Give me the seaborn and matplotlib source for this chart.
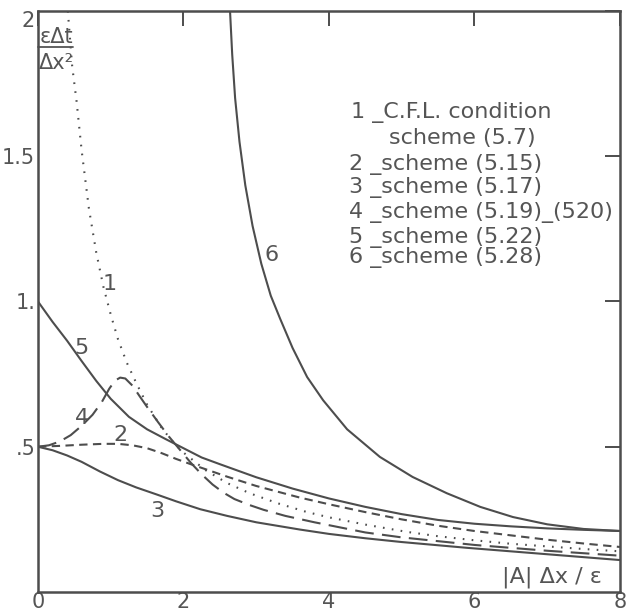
import matplotlib
matplotlib.use("Agg")
import matplotlib.pyplot as plt
import seaborn as sns
import pandas as pd

# Stability limits of eps*dt/dx^2 against the cell Reynolds number |A| dx / eps
x1 = [0.41, 0.47, 0.53, 0.60, 0.70, 0.80, 0.90, 1.00, 1.10, 1.22, 1.35, 1.50, 1.70, 1.86, 2.00,
      2.30, 2.60, 2.91, 3.30, 3.70, 4.00, 4.50, 5.07, 5.50, 6.00, 6.50, 7.00, 7.50, 8.00]
y1 = [2.00, 1.81, 1.69, 1.52, 1.32, 1.17, 1.05, 0.955, 0.87, 0.79, 0.72, 0.645, 0.565, 0.515, 0.48,
      0.42, 0.375, 0.34, 0.305, 0.275, 0.257, 0.232, 0.207, 0.192, 0.178, 0.166, 0.157, 0.148, 0.14]

x2 = [0.0, 0.3, 0.6, 0.9, 1.1, 1.3, 1.5, 1.7, 1.9, 2.1, 2.3, 2.6, 3.0, 3.6, 4.0, 4.5, 5.0, 5.5,
      6.0, 6.5, 7.0, 7.5, 8.0]
y2 = [0.50, 0.503, 0.507, 0.51, 0.51, 0.505, 0.495, 0.478, 0.458, 0.44, 0.423, 0.397, 0.365, 0.325,
      0.302, 0.275, 0.25, 0.228, 0.21, 0.195, 0.18, 0.167, 0.155]

x3 = [0.0, 0.2, 0.4, 0.6, 0.85, 1.1, 1.35, 1.64, 1.9, 2.23, 2.6, 3.0, 3.6, 4.0, 4.5, 5.0, 5.9,
      6.5, 7.0, 7.5, 8.0]
y3 = [0.50, 0.488, 0.47, 0.448, 0.415, 0.385, 0.36, 0.335, 0.312, 0.285, 0.262, 0.24, 0.215, 0.20,
      0.185, 0.172, 0.152, 0.14, 0.13, 0.12, 0.11]

x4 = [0.0, 0.15, 0.3, 0.45, 0.6, 0.75, 0.88, 0.98, 1.06, 1.13, 1.2, 1.3, 1.4, 1.5, 1.65, 1.8, 1.95,
      2.1, 2.25, 2.4, 2.55, 2.7, 2.9, 3.1, 3.4, 3.8, 4.5, 5.0, 5.5, 6.0, 7.0, 8.0]
y4 = [0.50, 0.505, 0.518, 0.54, 0.572, 0.61, 0.655, 0.70, 0.728, 0.738, 0.735, 0.71, 0.673, 0.637,
      0.585, 0.535, 0.49, 0.445, 0.405, 0.37, 0.342, 0.32, 0.30, 0.283, 0.262, 0.24, 0.205, 0.188,
      0.175, 0.162, 0.142, 0.125]

x5 = [0.0, 0.2, 0.4, 0.6, 0.8, 1.0, 1.25, 1.5, 1.75, 2.0, 2.25, 2.5, 3.0, 3.5, 4.0, 4.5, 5.0, 5.5,
      6.0, 6.5, 7.0, 7.5, 8.0]
y5 = [1.00, 0.93, 0.865, 0.795, 0.727, 0.665, 0.603, 0.56, 0.527, 0.495, 0.463, 0.44, 0.395, 0.356,
      0.322, 0.293, 0.268, 0.248, 0.235, 0.226, 0.219, 0.214, 0.21]

x6 = [2.64, 2.67, 2.71, 2.77, 2.85, 2.95, 3.07, 3.20, 3.33, 3.50, 3.70, 3.92, 4.25, 4.70, 5.15,
      5.62, 6.08, 6.53, 7.00, 7.50, 8.00]
y6 = [2.00, 1.85, 1.70, 1.55, 1.40, 1.26, 1.13, 1.02, 0.94, 0.84, 0.74, 0.66, 0.56, 0.465, 0.396,
      0.34, 0.293, 0.258, 0.233, 0.217, 0.21]

curve_ids = ["1", "2", "3", "4", "5", "6"]
legend_lines = [
    "1 _C.F.L. condition",
    "scheme (5.7)",
    "2 _scheme (5.15)",
    "3 _scheme (5.17)",
    "4 _scheme (5.19)_(520)",
    "5 _scheme (5.22)",
    "6 _scheme (5.28)",
]
xtick_vals = [0, 2, 4, 6, 8]
xtick_text = ["0", "2", "4", "6", "8"]
ytick_vals = [0.5, 1.0, 1.5, 2.0]
ytick_text = [".5", "1.", "1.5", "2"]

sns.set_theme(style="white")
plt.rcParams["font.family"] = ["DejaVu Sans"]

ink = "#4d4d4d"
txt = "#555555"
fig = plt.figure(figsize=(6.3, 6.11), dpi=100)
ax = fig.add_axes([0.0603, 0.0311, 0.9237, 0.9509])

styles = {
    "1": (0, (0.8, 3.5)),
    "2": (0, (4, 2.6)),
    "3": "-",
    "4": (0, (9, 4)),
    "5": "-",
    "6": "-",
}
series = {"1": (x1, y1), "2": (x2, y2), "3": (x3, y3),
          "4": (x4, y4), "5": (x5, y5), "6": (x6, y6)}
for cid in curve_ids:
    xs, ys = series[cid]
    df = pd.DataFrame({"x": xs, "y": ys})
    sns.lineplot(data=df, x="x", y="y", ax=ax, color=ink, lw=1.5,
                 linestyle=styles[cid], sort=False, estimator=None)

ax.set_xlim(0, 8)
ax.set_ylim(0, 2)
ax.set_xlabel("")
ax.set_ylabel("")
ax.set_xticks(xtick_vals)
ax.set_xticklabels(xtick_text)
ax.set_yticks(ytick_vals)
ax.set_yticklabels(ytick_text)
ax.tick_params(direction="in", length=11, width=1.4, color=ink,
               top=True, right=True, labelcolor=txt)
ax.tick_params(axis="y", labelsize=15, pad=2)
ax.tick_params(axis="x", labelsize=15, pad=0)
ax.get_yticklabels()[-1].set_va("top")
for s in ax.spines.values():
    s.set_color(ink)
    s.set_linewidth(1.8)

# curve numbers
curve_label_pos = {"1": (0.98, 1.06), "2": (1.13, 0.54), "3": (1.64, 0.28),
                   "4": (0.60, 0.60), "5": (0.60, 0.84), "6": (3.21, 1.16)}
for cid in curve_ids:
    px, py = curve_label_pos[cid]
    ax.text(px, py, cid, fontsize=16, color=txt, ha="center", va="center")

# key
key_x = [4.30, 4.82, 4.28, 4.28, 4.28, 4.28, 4.28]
key_y = [1.649, 1.563, 1.47, 1.391, 1.308, 1.222, 1.15]
for tx, ty, t in zip(key_x, key_y, legend_lines):
    ax.text(tx, ty, t, fontsize=16, color=txt, ha="left", va="center")

# ordinate title as a stacked fraction in the upper-left corner
ax.text(0.25, 1.912, "εΔt", fontsize=15, color=txt, ha="center", va="center")
ax.plot([0.0, 0.48], [1.876, 1.876], color=txt, lw=1.3, clip_on=False)
ax.text(0.25, 1.822, "Δx²", fontsize=15, color=txt, ha="center", va="center")

# abscissa title inside the frame
ax.text(7.07, 0.052, "|A| Δx / ε", fontsize=16, color=txt, ha="center", va="center")

fig.savefig("out.png", dpi=100, facecolor="white")
